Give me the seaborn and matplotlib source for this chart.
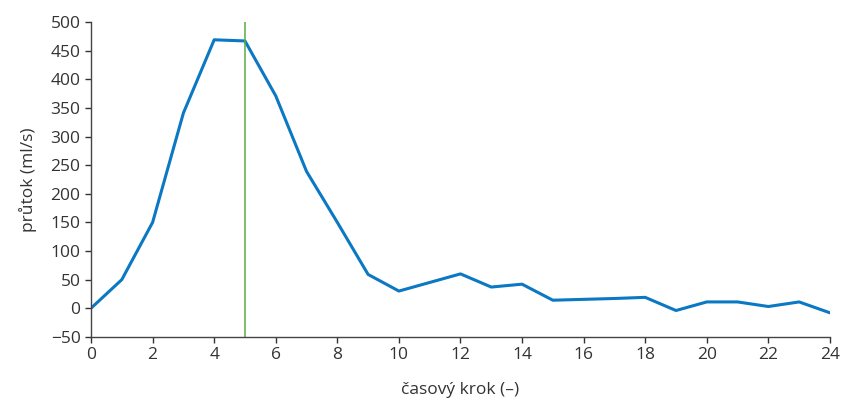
import matplotlib
matplotlib.use("Agg")
import matplotlib.pyplot as plt
import seaborn as sns
import pandas as pd

steps = list(range(25))
flow = [0, 50, 150, 341, 469, 467, 371, 239, 150, 59, 30, 45, 60, 37, 42, 14, 15.5, 17, 19, -4, 11, 11, 3, 11, -8]
marker_step = 5
x_ticks = list(range(0, 25, 2))
y_ticks = list(range(-50, 501, 50))

sns.set_theme(style="ticks")
plt.rcParams['font.family'] = ['Open Sans', 'DejaVu Sans']

df = pd.DataFrame({"step": steps, "flow": flow})

fig = plt.figure(figsize=(8.46, 4.01), dpi=100)
ax = fig.add_axes([0.1076, 0.160, 0.8734, 0.785])

sns.lineplot(data=df, x="step", y="flow", ax=ax, color="#0a78c2", linewidth=2.2)
ax.axvline(marker_step, color="#5aac44", linewidth=1.1, ymin=0, ymax=1)

ax.set_xlim(0, 24)
ax.set_ylim(-50, 500)
ax.set_xticks(x_ticks)
ax.set_yticks(y_ticks)
ax.set_yticklabels([str(v).replace('-', '\u2212') for v in y_ticks])
sns.despine(ax=ax)
for s in ["left", "bottom"]:
    ax.spines[s].set_color("#444444")
    ax.spines[s].set_linewidth(1.0)
ax.tick_params(axis="both", colors="#333333", labelsize=12.5, length=4, width=1, direction="out")
ax.tick_params(axis="x", pad=3)
ax.set_xlabel("časový krok (–)", fontsize=12.5, color="#333333", labelpad=14)
ax.set_ylabel("průtok (ml/s)", fontsize=12.5, color="#333333", labelpad=10)

fig.savefig("out.png", dpi=100)
